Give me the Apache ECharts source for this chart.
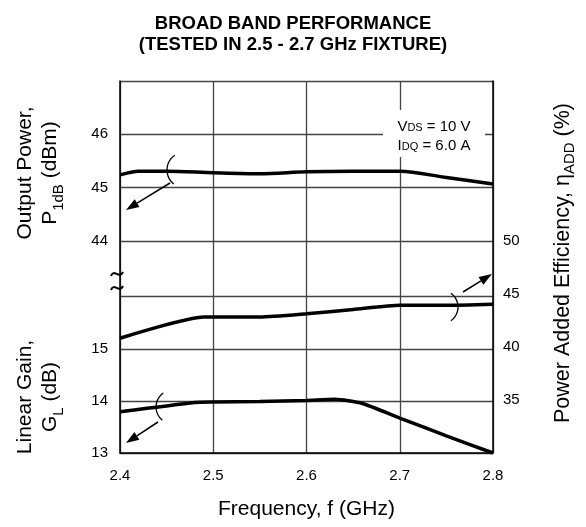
<!DOCTYPE html>
<html>
<head>
<meta charset="utf-8">
<script src="https://cdn.jsdelivr.net/npm/echarts@6/dist/echarts.min.js"></script>
<style>html,body{margin:0;padding:0;background:#fff}#chartmain{width:586px;height:527px}</style>
</head>
<body>
<div id="chartmain"></div>
<script>
// values
var freqPower = [2.4, 2.42, 2.45, 2.5, 2.55, 2.6, 2.65, 2.7, 2.75, 2.8];
var powerDbm = [45.24, 45.31, 45.31, 45.28, 45.26, 45.30, 45.31, 45.31, 45.19, 45.07];
var freqEff = [2.4, 2.49, 2.5, 2.55, 2.6, 2.65, 2.7, 2.75, 2.8];
var effPct = [40.8, 42.8, 42.8, 42.8, 43.1, 43.5, 43.9, 43.9, 44.0];
var freqGain = [2.4, 2.48, 2.5, 2.55, 2.6, 2.63, 2.66, 2.7, 2.75, 2.8];
var gainDb = [13.79, 13.97, 13.98, 13.99, 14.01, 14.03, 13.95, 13.67, 13.33, 13.0];
var powerTicks = [44, 45, 46];
var gainTicks = [13, 14, 15];
var effTicks = [35, 40, 45, 50];

var font = 'Liberation Sans';
var gridLine = {show: true, lineStyle: {color: '#444', width: 1.3}};

function pairs(xs, ys) {
    var out = [];
    for (var i = 0; i < xs.length; i++) out.push([xs[i], ys[i]]);
    return out;
}
function onlyTicks(list) {
    return function(v) { return list.indexOf(Math.round(v)) >= 0 ? String(Math.round(v)) : ''; };
}
function arrow(x1, y1, x2, y2) {
    var a = Math.atan2(y2 - y1, x2 - x1), L = 13, W = 4.5;
    var bx = x2 - L * Math.cos(a), by = y2 - L * Math.sin(a);
    return [
        {type: 'line', z: 100, shape: {x1: x1, y1: y1, x2: bx, y2: by}, style: {stroke: '#000', lineWidth: 1.5}},
        {type: 'polygon', z: 100, shape: {points: [[x2, y2], [bx + W * Math.sin(a), by - W * Math.cos(a)], [bx - W * Math.sin(a), by + W * Math.cos(a)]]}, style: {fill: '#000'}}
    ];
}
function bracket(cx, cy, r, a0, a1) {
    return {type: 'arc', z: 100, shape: {cx: cx, cy: cy, r: r, startAngle: a0, endAngle: a1, clockwise: true}, style: {stroke: '#000', lineWidth: 1.3, fill: null}};
}
function tilde(y) {
    return {type: 'bezierCurve', z: 100, shape: {x1: 111, y1: y + 2, cpx1: 114, cpy1: y - 6, cpx2: 119, cpy2: y + 6, x2: 123, y2: y - 2}, style: {stroke: '#000', lineWidth: 2, fill: null}};
}

var subStyle = {fontSize: 15, fontFamily: font, verticalAlign: 'bottom', padding: [0, 0, -3, 0]};
var graphics = [
    // conditions box
    {type: 'rect', z: 50, shape: {x: 383, y: 110, width: 102, height: 47}, style: {fill: '#fff'}},
    {type: 'text', z: 100, x: 434, y: 136, style: {text: 'V{s|DS} = 10 V\nI{s|DQ} = 6.0 A', font: '15px ' + font, fill: '#000', align: 'center', verticalAlign: 'middle', lineHeight: 19,
        rich: {s: {fontSize: 11, fontFamily: font, padding: [0, 0, -2, 0]}}}},
    // axis titles
    {type: 'text', z: 100, x: 38, y: 173, rotation: Math.PI / 2, style: {text: 'Output Power,\nP{s|1dB} (dBm)', font: '21px ' + font, fill: '#000', align: 'center', verticalAlign: 'middle', lineHeight: 25, rich: {s: subStyle}}},
    {type: 'text', z: 100, x: 38, y: 397, rotation: Math.PI / 2, style: {text: 'Linear Gain,\nG{s|L} (dB)', font: '21px ' + font, fill: '#000', align: 'center', verticalAlign: 'middle', lineHeight: 25, rich: {s: subStyle}}},
    {type: 'text', z: 100, x: 563, y: 263, rotation: Math.PI / 2, style: {text: 'Power Added Efficiency, η{s|ADD} (%)', font: '21.5px ' + font, fill: '#000', align: 'center', verticalAlign: 'middle', rich: {s: subStyle}}},
    // axis break
    tilde(274), tilde(288),
    bracket(185, 170, 18, 2.25, 4.1),
    bracket(173, 407, 17, 2.25, 4.1),
    bracket(441, 307, 17, -0.95, 0.95)
].concat(arrow(170, 183, 126, 210), arrow(158, 422, 126, 443), arrow(463, 292, 492, 274));

var myChart = echarts.init(document.getElementById('chartmain'));
var options = {
    backgroundColor: '#fff',
    animation: false,
    title: {
        text: 'BROAD BAND PERFORMANCE\n(TESTED IN 2.5 - 2.7 GHz FIXTURE)',
        left: 'center', top: 8,
        textStyle: {fontSize: 18.5, fontWeight: 'bold', fontFamily: font, color: '#000', lineHeight: 21}
    },
    grid: [
        {left: 120, top: 81, width: 373, height: 372},
        {left: 120, top: 81, width: 373, height: 160},
        {left: 120, top: 296.7, width: 373, height: 156.3}
    ],
    xAxis: [
        {gridIndex: 0, type: 'value', min: 2.4, max: 2.8, interval: 0.1,
            name: 'Frequency, f (GHz)', nameLocation: 'middle', nameGap: 46,
            nameTextStyle: {fontSize: 21, fontFamily: font, color: '#000'},
            axisLine: {show: true, lineStyle: {color: '#000', width: 1.5}}, axisTick: {show: false},
            axisLabel: {margin: 15, color: '#000', fontSize: 15, fontFamily: font, formatter: function(v) { return v.toFixed(1); }},
            splitLine: gridLine},
        {gridIndex: 1, type: 'value', min: 2.4, max: 2.8, show: false},
        {gridIndex: 2, type: 'value', min: 2.4, max: 2.8, show: false}
    ],
    yAxis: [
        {gridIndex: 0, type: 'value', position: 'right', min: 30, max: 65, interval: 5,
            axisLine: {show: true, lineStyle: {color: '#000', width: 1.5}}, axisTick: {show: false},
            axisLabel: {margin: 10, color: '#000', fontSize: 15, fontFamily: font, formatter: onlyTicks(effTicks)},
            splitLine: {show: false}},
        {gridIndex: 1, type: 'value', min: 44, max: 47, interval: 1,
            axisLine: {show: false}, axisTick: {show: false},
            axisLabel: {margin: 12, color: '#000', fontSize: 15, fontFamily: font, formatter: onlyTicks(powerTicks)},
            splitLine: gridLine},
        {gridIndex: 2, type: 'value', min: 13, max: 16, interval: 1,
            axisLine: {show: false}, axisTick: {show: false},
            axisLabel: {margin: 12, color: '#000', fontSize: 15, fontFamily: font, formatter: onlyTicks(gainTicks)},
            splitLine: gridLine},
        {gridIndex: 0, type: 'value', position: 'left', min: 0, max: 1,
            axisLine: {show: true, lineStyle: {color: '#000', width: 1.5}}, axisTick: {show: false},
            axisLabel: {show: false}, splitLine: {show: false}}
    ],
    series: [
        {name: 'P1dB', type: 'line', xAxisIndex: 1, yAxisIndex: 1, data: pairs(freqPower, powerDbm),
            symbol: 'none', smooth: 0.3, lineStyle: {color: '#000', width: 3.5}, z: 20},
        {name: 'Efficiency', type: 'line', xAxisIndex: 0, yAxisIndex: 0, data: pairs(freqEff, effPct),
            symbol: 'none', smooth: 0.2, lineStyle: {color: '#000', width: 3.5}, z: 20},
        {name: 'Gain', type: 'line', xAxisIndex: 2, yAxisIndex: 2, data: pairs(freqGain, gainDb),
            symbol: 'none', smooth: 0.2, lineStyle: {color: '#000', width: 3.5}, z: 20}
    ],
    graphic: graphics
};
myChart.setOption(options);
</script>
</body>
</html>
